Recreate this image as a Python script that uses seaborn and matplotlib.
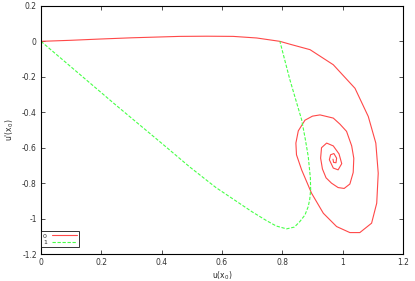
import matplotlib
matplotlib.use("Agg")
import matplotlib.pyplot as plt
import seaborn as sns
import numpy as np
import pandas as pd

# curve "0" (red, solid): u(x0) vs u'(x0)
u0 = [0.0, 0.1, 0.195, 0.3, 0.46, 0.55, 0.637, 0.715, 0.792, 0.825, 0.892,
      0.969, 1.041, 1.085, 1.11, 1.118, 1.113, 1.096, 1.057, 1.024, 0.98,
      0.936, 0.897, 0.864, 0.847, 0.845, 0.853, 0.875, 0.9, 0.925, 0.969,
      0.991, 1.013, 1.03, 1.037, 1.035, 1.024, 1.005, 0.985, 0.963, 0.945,
      0.933, 0.927, 0.93, 0.947, 0.969, 0.988, 0.997, 0.985, 0.969, 0.956,
      0.96, 0.971, 0.98, 0.978, 0.97, 0.968]
du0 = [0.0, 0.006, 0.013, 0.02, 0.028, 0.029, 0.028, 0.019, 0.0, -0.016,
       -0.047, -0.132, -0.265, -0.424, -0.574, -0.744, -0.913, -1.026,
       -1.079, -1.079, -1.045, -0.97, -0.857, -0.725, -0.64, -0.574, -0.505,
       -0.445, -0.422, -0.415, -0.433, -0.467, -0.508, -0.59, -0.66, -0.74,
       -0.805, -0.83, -0.825, -0.8, -0.77, -0.72, -0.659, -0.6, -0.574,
       -0.59, -0.635, -0.69, -0.725, -0.715, -0.668, -0.64, -0.633, -0.659,
       -0.685, -0.683, -0.665]

# curve "1" (green, dashed)
u1 = [0.0, 0.245, 0.4, 0.494, 0.58, 0.637, 0.7, 0.748, 0.78, 0.814,
      0.84, 0.858, 0.875, 0.886, 0.891, 0.894, 0.893, 0.886, 0.876, 0.864,
      0.825, 0.792]
du1 = [0.0, -0.355, -0.575, -0.71, -0.825, -0.89, -0.962, -1.012, -1.042,
       -1.058, -1.048, -1.017, -0.98, -0.932, -0.89, -0.838, -0.77, -0.65,
       -0.55, -0.442, -0.216, 0.0]

labels = ["0", "1"]
colors = ["#ff4848", "#48ff48"]

sns.set_style("ticks")
plt.rcParams['font.family'] = ['DejaVu Sans']

fig = plt.figure(figsize=(4.15, 2.81), dpi=100)
ax = fig.add_axes([0.0988, 0.096, 0.8722, 0.883])

sns.lineplot(x=u0, y=du0, sort=False, estimator=None, ax=ax,
             color=colors[0], linewidth=0.8, label=labels[0])
sns.lineplot(x=u1, y=du1, sort=False, estimator=None, ax=ax,
             color=colors[1], linewidth=0.8, linestyle=(0, (3, 1.5)),
             label=labels[1])

ax.set_xlim(0, 1.2)
ax.set_ylim(-1.2, 0.2)
ax.set_xticks(np.arange(0, 1.21, 0.2))
ax.set_yticks(np.arange(-1.2, 0.21, 0.2))
ax.set_xticklabels(["0", "0.2", "0.4", "0.6", "0.8", "1", "1.2"])
ax.set_yticklabels(["-1.2", "-1", "-0.8", "-0.6", "-0.4", "-0.2", "0", "0.2"])
ax.tick_params(direction="in", length=3, width=0.6, labelsize=5.5,
               top=True, right=True, pad=3, colors="#333333")
for s in ax.spines.values():
    s.set_linewidth(0.8)
    s.set_color("black")

ax.set_xlabel("u(x$_0$)", fontsize=5.5, labelpad=2)
ax.set_ylabel("u'(x$_0$)", fontsize=5.5, labelpad=4)

leg = ax.legend(loc="lower left", bbox_to_anchor=(0.0, 0.028),
                borderaxespad=0, fontsize=4.5, frameon=True, fancybox=False,
                edgecolor="black", markerfirst=False, handlelength=4,
                borderpad=0.3, labelspacing=0.2, handletextpad=0.8)
leg.get_frame().set_linewidth(0.7)

fig.savefig("out.png", dpi=100)
